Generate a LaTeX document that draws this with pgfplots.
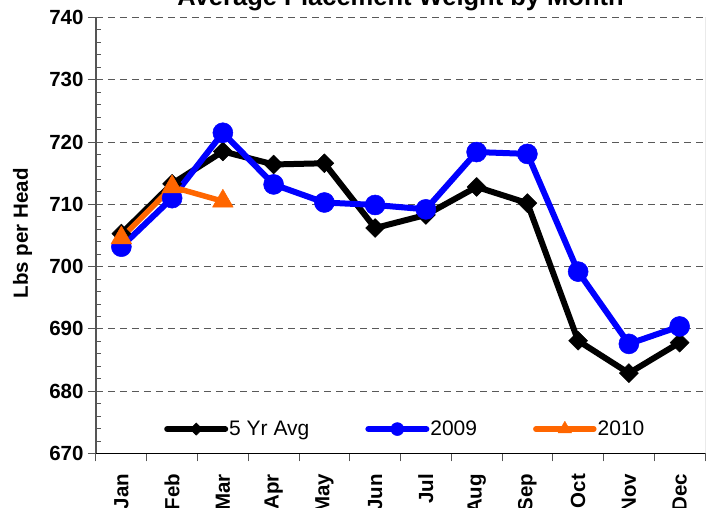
\documentclass[border=0pt]{standalone}
\usepackage{pgfplots}
\pgfplotsset{compat=1.18}
\usepackage{fontspec}
\setmainfont{Liberation Sans}
\definecolor{orng}{RGB}{255,102,0}
\definecolor{bluec}{RGB}{0,0,255}
\definecolor{axgray}{RGB}{85,85,85}
\begin{document}
\begin{tikzpicture}
\begin{axis}[
  name=ax,
  scale only axis,
  width=609pt, height=436pt,
  xmin=0.5, xmax=12.5, ymin=670, ymax=740,
  axis x line*=bottom, axis y line*=left,
  x axis line style={black, line width=1.5pt},
  y axis line style={axgray, line width=2pt},
  ytick={670,680,...,740},
  minor y tick num=4,
  ymajorgrids,
  major grid style={dash pattern=on 7pt off 5pt, line width=1pt, color=black!65},
  tick align=outside,
  major tick length=8pt,
  minor tick length=5pt,
  tick style={axgray, line width=1pt},
  minor y tick style={xshift=5pt},
  /pgf/number format/assume math mode=true,
  yticklabel style={font=\fontsize{20.5}{24}\selectfont\bfseries, xshift=-1pt},
  xtick={0.5,1.5,...,12.5},
  xticklabel=\empty,
  extra x ticks={1,...,12},
  extra x tick labels={Jan,Feb,Mar,Apr,May,Jun,Jul,Aug,Sep,Oct,Nov,Dec},
  extra x tick style={major tick length=0pt, grid=none, xticklabel shift=17pt,
    xticklabel style={rotate=90, anchor=east, font=\fontsize{20.5}{24}\selectfont\bfseries}},
  ylabel={Lbs per Head},
  ylabel style={at={(rel axis cs:-0.1207,0.505)}, anchor=center, font=\fontsize{20.5}{24}\selectfont\bfseries},
  legend image code/.code={\draw[mark repeat=2,mark phase=2,#1,every mark/.append style={scale=0.65}] plot coordinates {(0pt,0pt) (29pt,0pt) (58pt,0pt)};},
  legend style={at={(0.507,0.056)}, anchor=center, draw=none, fill=none,
    legend columns=3, font=\fontsize{21}{24}\selectfont,
    nodes={inner sep=1pt},
    /tikz/every even column/.append style={column sep=55pt}},
]
\addplot[black, line width=6pt, line join=round, line cap=round,
  mark=square*, mark size=6.7pt, mark options={rotate=45, line width=0.5pt, solid}]
  coordinates {(1,705.3)(2,713.3)(3,718.5)(4,716.4)(5,716.6)(6,706.2)(7,708.3)(8,712.8)(9,710.2)(10,688.1)(11,682.9)(12,687.8)};
\addlegendentry{5 Yr Avg}
\addplot[bluec, line width=6pt, line join=round, line cap=round,
  mark=*, mark size=10pt, mark options={line width=0.5pt, solid}]
  coordinates {(1,703.2)(2,711.0)(3,721.5)(4,713.2)(5,710.3)(6,709.9)(7,709.2)(8,718.4)(9,718.1)(10,699.2)(11,687.6)(12,690.4)};
\addlegendentry{2009}
\addplot[orng, line width=5.5pt, line join=round, line cap=round,
  mark=triangle*, mark size=12pt, mark options={line width=0.5pt, solid}]
  coordinates {(1,704.6)(2,712.8)(3,710.5)};
\addlegendentry{2010}
\draw[axgray, line width=1pt] (rel axis cs:1,0) -- (rel axis cs:1,1);
\end{axis}
\node[anchor=base, font=\fontsize{25.5}{28}\selectfont\bfseries] at ([yshift=12pt]ax.north) {Average Placement Weight by Month};
\pgfresetboundingbox
\path[use as bounding box] ([xshift=-96pt,yshift=-54.5pt]ax.south west) rectangle ([xshift=2pt,yshift=17.5pt]ax.north east);
\end{tikzpicture}
\end{document}
